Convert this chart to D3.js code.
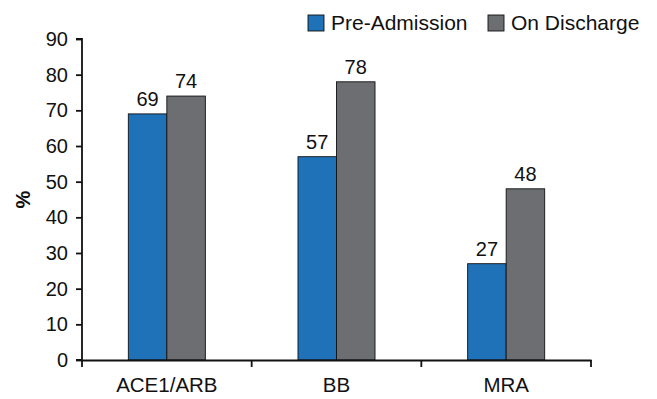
<!DOCTYPE html>
<html>
<head>
<meta charset="utf-8">
<script src="https://cdn.jsdelivr.net/npm/d3@7"></script>
<style>
  html, body { margin: 0; padding: 0; background: #fff; }
  svg { display: block; font-family: "Liberation Sans", Arial, Helvetica, sans-serif; }
</style>
</head>
<body>
<svg id="chart" width="657" height="399"></svg>
<script>
// Medication use by drug class
const categories = ["ACE1/ARB", "BB", "MRA"];
const seriesNames = ["Pre-Admission", "On Discharge"];
const preAdmission = [69, 57, 27];
const onDischarge = [74, 78, 48];
const yTicks = [0, 10, 20, 30, 40, 50, 60, 70, 80, 90];
const colors = ["#1f71b8", "#6d6e71"];

const svg = d3.select("#chart");
const margin = { left: 82, right: 66, top: 39, bottom: 39 };
const width = 657 - margin.left - margin.right;
const height = 399 - margin.top - margin.bottom;

const g = svg.append("g").attr("transform", `translate(${margin.left},${margin.top})`);

const x = d3.scaleBand().domain(categories).range([0, width]).paddingInner(0).paddingOuter(0);
const xInner = d3.scaleBand().domain(seriesNames).range([x.bandwidth() * 0.273, x.bandwidth() * 0.727]);
const y = d3.scaleLinear().domain([0, 90]).range([height, 0]);

const rows = categories.map((c, i) => ({ cat: c, values: [preAdmission[i], onDischarge[i]] }));

// Bars
const groups = g.selectAll(".grp").data(rows).join("g")
  .attr("class", "grp")
  .attr("transform", d => `translate(${x(d.cat)},0)`);

groups.selectAll("rect").data(d => d.values.map((v, k) => ({ v, k }))).join("rect")
  .attr("x", d => xInner(seriesNames[d.k]))
  .attr("width", xInner.bandwidth())
  .attr("y", d => y(d.v))
  .attr("height", d => y(0) - y(d.v))
  .attr("fill", d => colors[d.k])
  .attr("stroke", "#111")
  .attr("stroke-width", 0.9);

groups.selectAll("text.val").data(d => d.values.map((v, k) => ({ v, k }))).join("text")
  .attr("class", "val")
  .attr("x", d => xInner(seriesNames[d.k]) + xInner.bandwidth() / 2)
  .attr("y", d => y(d.v) - 8)
  .attr("text-anchor", "middle")
  .attr("font-size", 20)
  .attr("fill", "#111")
  .text(d => d.v);

// Y axis
const yAxis = g.append("g")
  .call(d3.axisLeft(y).tickValues(yTicks).tickSize(6).tickPadding(8).tickFormat(d3.format("d")));
yAxis.selectAll("text").attr("font-size", 20).attr("fill", "#111");
yAxis.selectAll("line").attr("stroke", "#111").attr("stroke-width", 1.8);
yAxis.select(".domain").attr("stroke", "#111").attr("stroke-width", 1.8).attr("d", `M-6,${height}H0V0H-6`);

// X axis
const xAxis = g.append("g").attr("transform", `translate(0,${height})`)
  .call(d3.axisBottom(x).tickSize(0).tickPadding(17));
xAxis.select(".domain").attr("stroke", "#111").attr("stroke-width", 1.8);
xAxis.selectAll("text").attr("font-size", 20.5).attr("fill", "#111");
const bounds = [0, ...categories.map(c => x(c) + x.bandwidth())];
xAxis.selectAll(".sep").data(bounds).join("line")
  .attr("class", "sep")
  .attr("x1", d => d).attr("x2", d => d)
  .attr("y1", 0).attr("y2", 7)
  .attr("stroke", "#111").attr("stroke-width", 1.8);

// Y axis title
svg.append("text")
  .attr("transform", `translate(30,${margin.top + height / 2}) rotate(-90)`)
  .attr("text-anchor", "middle")
  .attr("font-size", 20)
  .attr("font-weight", "bold")
  .attr("fill", "#111")
  .text("%");

// Legend
const legendPos = [308, 488];
const legend = svg.append("g");
seriesNames.forEach((name, k) => {
  legend.append("rect")
    .attr("x", legendPos[k]).attr("y", 15)
    .attr("width", 16).attr("height", 16)
    .attr("fill", colors[k]).attr("stroke", "#111").attr("stroke-width", 0.9);
  legend.append("text")
    .attr("x", legendPos[k] + 23).attr("y", 30)
    .attr("font-size", 21).attr("fill", "#111")
    .text(name);
});
</script>
</body>
</html>
